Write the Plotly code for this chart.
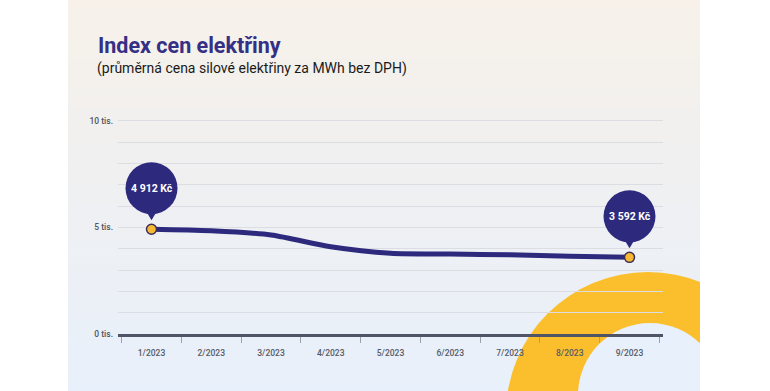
import plotly.graph_objects as go

# ---- data ----
months = ["1/2023", "2/2023", "3/2023", "4/2023", "5/2023", "6/2023", "7/2023", "8/2023", "9/2023"]
price = [4912, 4840, 4640, 4090, 3785, 3750, 3710, 3640, 3592]
y_tickvals = [0, 1000, 2000, 3000, 4000, 5000, 6000, 7000, 8000, 9000, 10000]
y_ticktext = ["0 tis.", "", "", "", "", "5 tis.", "", "", "", "", "10 tis."]
title_text = "Index cen elektřiny"
subtitle_text = "(průměrná cena silové elektřiny za MWh bez DPH)"
callout_idx = [0, len(months) - 1]

# ---- layout geometry (pixels) ----
W, H = 770, 391
ML, MR, MT, MB = 118, 107, 110, 57
PW, PH = W - ML - MR, H - MT - MB


def px2x(px):
    return (px - ML) / PW


def py2y(py):
    return (H - MB - py) / PH


NAVY = "#2d2a7e"
YELLOW = "#f7b935"
FONT = "Roboto"

fig = go.Figure()

fig.add_trace(go.Scatter(
    x=months, y=price, mode="lines",
    line=dict(color=NAVY, width=5, shape="spline", smoothing=0.8),
    hoverinfo="skip", showlegend=False,
))
fig.add_trace(go.Scatter(
    x=[months[i] for i in callout_idx], y=[price[i] for i in callout_idx],
    mode="markers",
    marker=dict(color=YELLOW, size=10, line=dict(color="#3b2e5a", width=1.5)),
    hoverinfo="skip", showlegend=False,
))

shapes = []
# background gradient card
top = (247, 241, 233)
mid = (239, 240, 242)
bot = (232, 240, 251)
N = 80
for k in range(N):
    t = (k + 0.5) / N
    if t < 0.5:
        a, b, f = top, mid, t / 0.5
    else:
        a, b, f = mid, bot, (t - 0.5) / 0.5
    c = tuple(round(a[j] + (b[j] - a[j]) * f) for j in range(3))
    y0 = H * k / N
    y1 = H * (k + 1) / N + 0.6
    shapes.append(dict(type="rect", xref="paper", yref="paper",
                       x0=px2x(68), x1=px2x(700), y0=py2y(y1), y1=py2y(y0),
                       fillcolor="rgb(%d,%d,%d)" % c, line=dict(width=0), layer="below"))
# yellow ring
ocx, ocy, orad = 648, 414, 142
icx, icy, irad = 650, 395, 72
shapes.append(dict(type="circle", xref="paper", yref="paper",
                   x0=px2x(ocx - orad), x1=px2x(ocx + orad), y0=py2y(ocy + orad), y1=py2y(ocy - orad),
                   fillcolor="#fbbf2e", line=dict(width=0), layer="below"))
shapes.append(dict(type="circle", xref="paper", yref="paper",
                   x0=px2x(icx - irad), x1=px2x(icx + irad), y0=py2y(icy + irad), y1=py2y(icy - irad),
                   fillcolor="rgb(232,240,251)", line=dict(width=0), layer="below"))
# white outside card
shapes.append(dict(type="rect", xref="paper", yref="paper",
                   x0=px2x(700), x1=px2x(W + 5), y0=py2y(H + 5), y1=py2y(-5),
                   fillcolor="white", line=dict(width=0), layer="below"))
shapes.append(dict(type="rect", xref="paper", yref="paper",
                   x0=px2x(-5), x1=px2x(68), y0=py2y(H + 5), y1=py2y(-5),
                   fillcolor="white", line=dict(width=0), layer="below"))

# callout bubbles
annotations = []
for i in callout_idx:
    shapes.append(dict(type="circle", xref="x", yref="y", xsizemode="pixel", ysizemode="pixel",
                       xanchor=i, yanchor=price[i], x0=-26, x1=26, y0=15, y1=67,
                       fillcolor=NAVY, line=dict(width=0)))
    shapes.append(dict(type="path", xref="x", yref="y", xsizemode="pixel", ysizemode="pixel",
                       xanchor=i, yanchor=price[i], path="M -6 19 L 0 9 L 6 19 Z",
                       fillcolor=NAVY, line=dict(width=0)))
    label = "{:,}".format(price[i]).replace(",", "\u00a0") + "\u00a0Kč"
    annotations.append(dict(x=months[i], y=price[i], xref="x", yref="y", yshift=41,
                            text="<b>%s</b>" % label, showarrow=False,
                            font=dict(family=FONT, size=10.5, color="white")))

annotations.append(dict(x=px2x(96), y=py2y(46), xref="paper", yref="paper",
                        xanchor="left", yanchor="middle", showarrow=False,
                        text="<b>%s</b>" % title_text,
                        font=dict(family=FONT, size=21.5, color="#352f85")))
annotations.append(dict(x=px2x(95), y=py2y(68), xref="paper", yref="paper",
                        xanchor="left", yanchor="middle", showarrow=False,
                        text=subtitle_text,
                        font=dict(family=FONT, size=14, color="#1a1a1a")))

fig.update_layout(
    width=W, height=H,
    margin=dict(l=ML, r=MR, t=MT, b=MB, pad=0),
    paper_bgcolor="white", plot_bgcolor="rgba(0,0,0,0)",
    shapes=shapes, annotations=annotations,
    showlegend=False,
    xaxis=dict(type="category", tickson="boundaries", ticks="outside", ticklen=6,
               tickwidth=1, tickcolor="#9ca1ab", showgrid=False, showline=True,
               linecolor="#4f5567", linewidth=2.5, zeroline=False,
               tickfont=dict(family=FONT, size=8.5, color="#555a66", weight=500),
               ticklabelstandoff=9, fixedrange=True),
    yaxis=dict(range=[0, 10500], tickvals=y_tickvals, ticktext=y_ticktext,
               showgrid=True, gridcolor="#dcdde2", gridwidth=1, zeroline=False,
               showline=False, ticks="", ticklabelstandoff=4,
               tickfont=dict(family=FONT, size=8.5, color="#4f5461", weight=500), fixedrange=True),
)

fig.write_html("out.html", config={"displayModeBar": False},
               post_script="document.body.style.margin='0';document.body.style.padding='0';")
